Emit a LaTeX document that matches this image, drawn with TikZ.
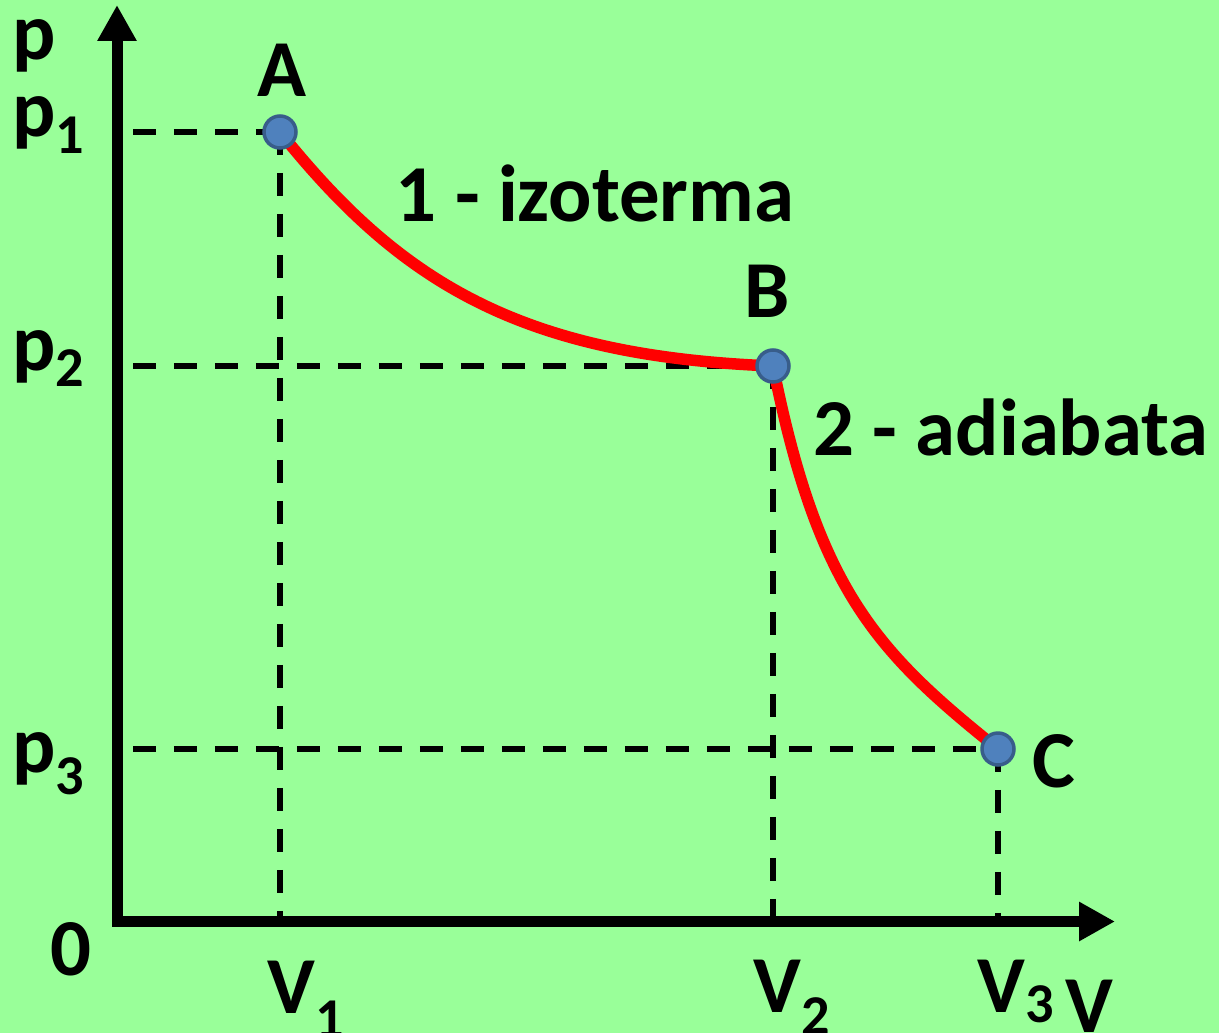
\documentclass[tikz,border=0pt]{standalone}
\usepackage{fontspec}
\setmainfont{Carlito}
\usepackage{tikz}
\usetikzlibrary{arrows.meta,positioning}
\definecolor{bggreen}{RGB}{153,255,153}
\definecolor{ptblue}{RGB}{79,129,189}
\definecolor{ptedge}{RGB}{56,93,138}
\newcommand{\lowidx}[2][0.34cm]{\raisebox{-#1}{\fontsize{32pt}{32pt}\selectfont #2}}

\begin{document}
\begin{tikzpicture}[x=0.02cm,y=-0.02cm,
    axis/.style={line width=0.22cm,line join=miter,
                 arrows={Triangle[length=0.72cm,width=0.74cm]-Triangle[length=0.72cm,width=0.74cm]}},
    guide/.style={line width=0.12cm,dash pattern=on 0.46cm off 0.36cm},
    proc/.style={red,line width=0.23cm,line join=round},
    pvpoint/.style={circle,fill=ptblue,draw=ptedge,line width=0.07cm,
                    minimum size=0.64cm,inner sep=0pt},
    lab/.style={inner sep=0pt,anchor=base,
                font=\fontsize{46pt}{48pt}\selectfont\bfseries}]
  \fill[bggreen] (0,0) rectangle (1219,1033);
  \useasboundingbox (0,0) rectangle (1219,1033);

  \coordinate (O) at (117,921.5);
  \coordinate (ptop) at (117,5);
  \coordinate (vend) at (1115,921.5);
  \coordinate (hstart) at (133,0);
  \coordinate (a) at (280,132);
  \coordinate (b) at (773,366);
  \coordinate (c) at (998,749);

  % guide lines
  \draw[guide] (hstart |- a) -- (a);
  \draw[guide] (hstart |- b) -- (b);
  \draw[guide] (hstart |- c) -- (c);
  \draw[guide] (a) -- (a |- O);
  \draw[guide] (b) -- (b |- O);
  \draw[guide] (c) -- (c |- O);

  \draw[axis] (ptop) -- (O) -- (vend);

  % isotherm and adiabat
  \draw[proc] (a) .. controls (400,282) and (520,356) .. (b)
                  .. controls (818,591) and (877,652) .. (c);

  \node[pvpoint] (ptA) at (a) {};
  \node[pvpoint] (ptB) at (b) {};
  \node[pvpoint] (ptC) at (c) {};

  \node[lab] (alab) at (282,97) {A};
  \node[lab] (blab) at (767,318) {B};
  \node[lab] (clab) at (1054,787) {C};
  \node[lab] (izo) at (595,222) {1 - izoterma};
  \node[lab] (adi) at (1011,455) {2 - adiabata};

  \node[lab,anchor=base west] (plab) at (12,60) {p};
  \node[lab,anchor=base west] (p1lab) at (12,137) {p\lowidx{1}};
  \node[lab,anchor=base west] (p2lab) at (12,371) {p\lowidx[0.32cm]{2}};
  \node[lab,anchor=base west] (p3lab) at (12,772) {p\lowidx[0.44cm]{3}};
  \node[lab,anchor=base west] (zero) at (50,975) {0};
  \node[lab,anchor=base west] (v1lab) at (267,1013) {V\lowidx[0.48cm]{1}};
  \node[lab,anchor=base west] (v2lab) at (753,1012) {V\lowidx[0.44cm]{2}};
  \node[lab,anchor=base west] (v3lab) at (977,1012) {V\lowidx[0.2cm]{3}};
  \node[lab,anchor=base west] (vlab) at (1065,1032) {V};
\end{tikzpicture}
\end{document}
